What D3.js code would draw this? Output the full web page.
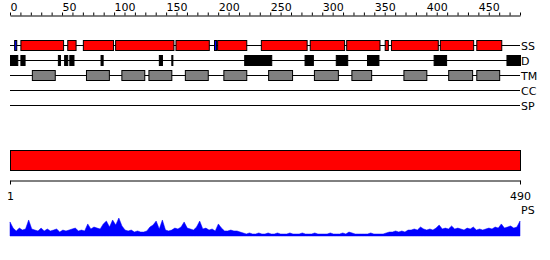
<!DOCTYPE html>
<html>
<head>
<meta charset="utf-8">
<script src="https://cdn.jsdelivr.net/npm/d3@7"></script>
<style>
body{margin:0;background:#fff;}
text{font-family:"DejaVu Sans",sans-serif;font-size:11px;fill:#000;}
</style>
</head>
<body>
<svg id="chart"></svg>
<script>
// sequence length
var seqLength = 490;

// feature tracks (start, end residue)
var ssHelix = [[10,51],[55,63],[70,99],[101,157],[159,191],[199,227],[241,285],[288,321],[323,355],[360,363],[366,411],[413,445],[448,472]];
var ssOther = [[4,6],[196,198]];
var disorder = [[0,7],[10,14],[46,48],[52,55],[57,61],[87,89],[143,146],[155,156],[225,251],[283,291],[313,324],[343,354],[407,419],[477,490]];
var tmSegments = [[21,43],[73,95],[107,129],[133,155],[168,190],[205,227],[248,271],[292,315],[328,347],[378,400],[421,444],[448,470]];
var trackNames = ["SS","D","TM","CC","SP"];

// PS profile, one value every 3 residues starting at residue 1
var psStep = 3;
var psValues = [
.78,.44,.28,.44,.33,.39,.89,.39,.33,.28,.44,.28,.39,.28,.33,.39,.22,.33,.28,.33,
.39,.44,.28,.33,.28,.67,.39,.5,.44,.39,.67,.83,.5,.89,.61,1,.56,.33,.28,.33,.22,
.28,.22,.22,.28,.5,.61,.83,.39,.89,.33,.28,.33,.44,.39,.5,.78,.44,.39,.33,.5,.83,
.39,.44,.33,.39,.28,.67,.44,.28,.28,.33,.28,.28,.22,.17,.11,.17,.11,.11,.17,.11,
.11,.17,.11,.11,.17,.11,.11,.11,.17,.11,.11,.11,.17,.11,.11,.11,.17,.11,.11,
.11,.11,.17,.11,.11,.11,.17,.11,.22,.17,.11,.11,.11,.11,.11,.17,.11,.11,.11,.11,
.17,.22,.22,.28,.22,.28,.22,.33,.33,.39,.33,.5,.39,.33,.39,.33,.44,.61,.39,.44,
.39,.56,.39,.44,.39,.33,.44,.39,.5,.33,.39,.33,.39,.44,.39,.5,.44,.67,.44,.5,
.56,.44,.5,.83
];

var topTicks = d3.range(0, seqLength + 1, 10);
var topLabels = d3.range(0, seqLength, 50);
var bottomTicks = [1, seqLength];

var screen = {width:550, height:260};
var rows = {axis:15, ss:45, d:60, tm:75, cc:90, sp:105, bar:150, barAxis:180, psBase:236};

var svg = d3.select("#chart")
    .attr("width", screen.width)
    .attr("height", screen.height);

var xScale = d3.scaleLinear()
    .domain([0, seqLength])
    .range([10, 520]);

var xScale1 = d3.scaleLinear()
    .domain([1, seqLength])
    .range([10, 520]);

var yScale = d3.scaleLinear()
    .domain([0, 1])
    .range([rows.psBase, rows.psBase - 18]);

// top ruler
var topAxis = d3.axisTop(xScale)
    .tickValues(topTicks)
    .tickSize(3)
    .tickSizeOuter(0)
    .tickFormat(function(d){ return topLabels.indexOf(d) >= 0 ? d : ""; });

var ga = svg.append("g")
    .attr("transform", "translate(0," + (rows.axis + 0.5) + ")")
    .call(topAxis);
ga.select(".domain").attr("stroke", "#000");
ga.selectAll("text")
    .attr("text-anchor", "start")
    .attr("y", -5)
    .attr("dy", 0)
    .style("font-size", "11px");

// track lines and names
var trackY = [rows.ss, rows.d, rows.tm, rows.cc, rows.sp];
svg.selectAll(".trackline")
    .data(trackNames)
    .enter()
    .append("line")
    .attr("x1", xScale(0))
    .attr("x2", xScale(seqLength))
    .attr("y1", function(d, i){ return trackY[i] + 0.5; })
    .attr("y2", function(d, i){ return trackY[i] + 0.5; })
    .attr("stroke", "#000");

svg.selectAll(".trackname")
    .data(trackNames)
    .enter()
    .append("text")
    .attr("x", xScale(seqLength) + 1)
    .attr("y", function(d, i){ return trackY[i] + 4.5; })
    .text(function(d){ return d; });

var drawBoxes = function(data, y, h, fill)
{
    svg.append("g")
        .selectAll("rect")
        .data(data)
        .enter()
        .append("rect")
        .attr("x", function(d){ return xScale(d[0]) + 0.5; })
        .attr("y", y - h/2 + 0.5)
        .attr("width", function(d){ return Math.max(1, xScale(d[1]) - xScale(d[0])); })
        .attr("height", h)
        .attr("fill", fill)
        .attr("stroke", "#000");
};

drawBoxes(ssHelix, rows.ss, 10, "#ff0000");
drawBoxes(ssOther, rows.ss, 10, "#0000ff");
drawBoxes(disorder, rows.d, 10, "#000");
drawBoxes(tmSegments, rows.tm, 10, "#808080");

// full length bar
svg.append("rect")
    .attr("x", xScale1(1) + 0.5)
    .attr("y", rows.bar + 0.5)
    .attr("width", xScale1(seqLength) - xScale1(1))
    .attr("height", 20)
    .attr("fill", "#ff0000")
    .attr("stroke", "#000");

var bottomAxis = d3.axisBottom(xScale1)
    .tickValues(bottomTicks)
    .tickSize(4)
    .tickSizeOuter(0);

var gb = svg.append("g")
    .attr("transform", "translate(0," + (rows.barAxis + 0.5) + ")")
    .call(bottomAxis);
gb.selectAll("text")
    .attr("y", 12)
    .style("font-size", "11px");

svg.append("text")
    .attr("x", xScale1(seqLength) + 1)
    .attr("y", 214)
    .text("PS");

// PS profile
var area = d3.area()
    .x(function(d, i){ return xScale1(1 + i * (seqLength - 1) / (psValues.length - 1)); })
    .y0(rows.psBase)
    .y1(function(d){ return yScale(d); });

svg.append("path")
    .datum(psValues)
    .attr("d", area)
    .attr("fill", "#0000ff")
    .attr("stroke", "#0000ff")
    .attr("stroke-width", 0.5);
</script>
</body>
</html>
